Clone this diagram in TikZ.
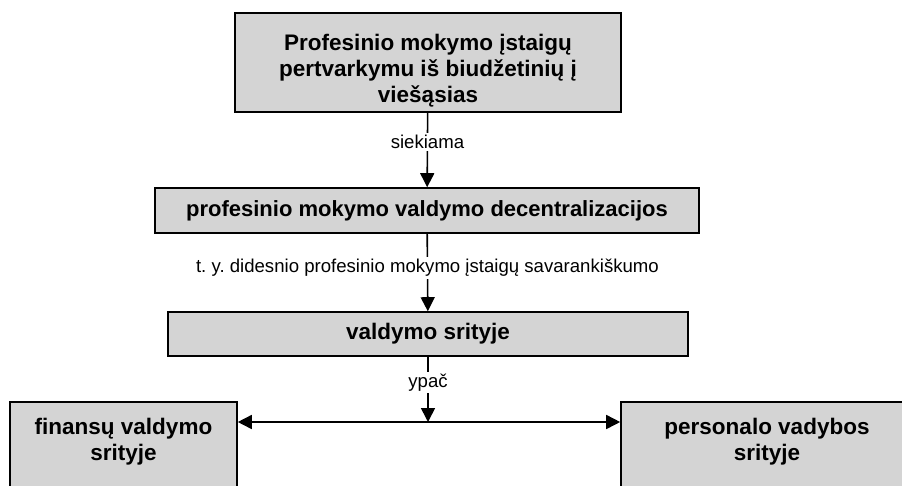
\documentclass[tikz,border=0pt]{standalone}
\usepackage{fontspec}
\setmainfont{Liberation Sans}
\usetikzlibrary{arrows.meta}
\definecolor{boxgray}{RGB}{212,212,212}
\frenchspacing

\begin{document}
\begin{tikzpicture}[x=1pt,y=-1pt,
    box/.style={draw,fill=boxgray,line width=1.6pt,inner sep=0pt,align=center,font=\bfseries\fontsize{22.5}{26.2}\selectfont},
    lab/.style={fill=white,inner sep=2pt,font=\fontsize{18.6}{22}\selectfont},
    arr/.style={line width=1.6pt,-{Triangle[length=14pt,width=14pt]}}]
    \useasboundingbox (0,0) rectangle (902,485);

    \node[box,minimum width=386pt,minimum height=99pt] (reform) at (428,62.5)
      {\rule{0pt}{33pt}Profesinio mokymo įstaigų\\pertvarkymu iš biudžetinių į\\viešąsias};
    \node[box,minimum width=544pt,minimum height=45pt,font=\bfseries\fontsize{22}{26}\selectfont] (decent) at (427,210.5)
      {profesinio mokymo valdymo decentralizacijos};
    \node[box,minimum width=520pt,minimum height=44pt] (valdym) at (428,334) {valdymo srityje};

    \pgfmathsetmacro{\ysplit}{422}
    \coordinate (split) at (428,\ysplit);

    \node[box,anchor=north,minimum width=227pt,inner ysep=16pt,text depth=70pt] (finans) at (123.5,401)
      {finansų valdymo\\srityje};
    \node[box,anchor=north,minimum width=292pt,inner ysep=16pt,text depth=70pt] (person) at (767,401)
      {personalo vadybos\\srityje};

    \draw[arr] (reform) -- node[lab,pos=0.39] (l1) {siekiama} (decent);
    \draw[arr] (decent) -- node[lab,pos=0.44] (l2) {t. y. didesnio profesinio mokymo įstaigų savarankiškumo} (valdym);
    \draw[arr] (valdym) -- node[lab,pos=0.39] (l3) {ypač} (split);

    \draw[arr] (split) -- (finans.east |- split);
    \draw[arr] (split) -- (person.west |- split);
  \end{tikzpicture}
\end{document}
